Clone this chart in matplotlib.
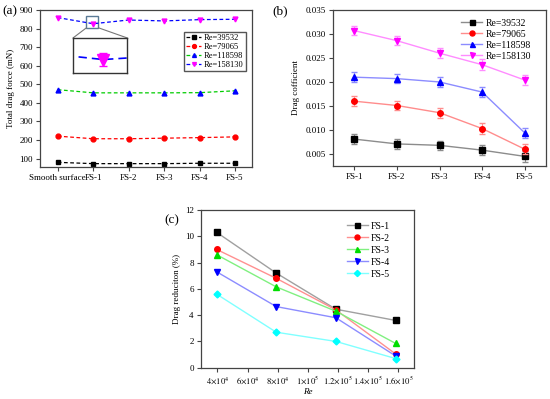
import matplotlib.pyplot as plt
from matplotlib.patches import Rectangle, ConnectionPatch

plt.rcParams['font.family'] = ['Liberation Serif', 'DejaVu Serif']
plt.rcParams['mathtext.fontset'] = 'stix'
plt.rcParams['font.size'] = 6.5
plt.rcParams['axes.edgecolor'] = '#444444'
plt.rcParams['xtick.color'] = '#444444'
plt.rcParams['ytick.color'] = '#444444'
plt.rcParams['xtick.labelcolor'] = 'black'
plt.rcParams['ytick.labelcolor'] = 'black'

# (a) total drag force
surfaces = ['Smooth surface', 'FS-1', 'FS-2', 'FS-3', 'FS-4', 'FS-5']
re_labels = ['Re=39532', 'Re=79065', 'Re=118598', 'Re=158130']
force_39532 = [80, 73, 73, 73, 75, 75]
force_79065 = [221, 207, 207, 210, 213, 217]
force_118598 = [471, 454, 454, 454, 455, 465]
force_158130 = [859, 826, 846, 841, 848, 850]
force_err_158130 = 12

# (b) drag coefficient
fs_names = ['FS-1', 'FS-2', 'FS-3', 'FS-4', 'FS-5']
cd_39532 = [0.0081, 0.0071, 0.0068, 0.0058, 0.0045]
cd_79065 = [0.0160, 0.0151, 0.0136, 0.0103, 0.0060]
cd_118598 = [0.0210, 0.0207, 0.0200, 0.0179, 0.0094]
cd_158130 = [0.0307, 0.0286, 0.0260, 0.0236, 0.0204]
cd_err = [0.0010, 0.0010, 0.0010, 0.0011, 0.0011]

# (c) drag reduction
re_values = [39532, 79065, 118598, 158130]
dr_fs1 = [10.3, 7.2, 4.45, 3.6]
dr_fs2 = [9.0, 6.8, 4.4, 1.05]
dr_fs3 = [8.6, 6.15, 4.3, 1.85]
dr_fs4 = [7.3, 4.65, 3.8, 0.9]
dr_fs5 = [5.6, 2.7, 2.0, 0.7]
re_ticks = [4e4, 6e4, 8e4, 1e5, 1.2e5, 1.4e5, 1.6e5]
re_tick_labels = [r'$4{\times}10^4$', r'$6{\times}10^4$', r'$8{\times}10^4$',
                  r'$1{\times}10^5$', r'$1.2{\times}10^5$', r'$1.4{\times}10^5$',
                  r'$1.6{\times}10^5$']

fig = plt.figure(figsize=(5.5, 3.99), dpi=100)
ax_a = fig.add_axes([0.0727, 0.5815, 0.3855, 0.3935])
ax_b = fig.add_axes([0.6055, 0.584, 0.3873, 0.391])
ax_c = fig.add_axes([0.365, 0.0784, 0.3878, 0.3953])

for ax in (ax_a, ax_b, ax_c):
    ax.tick_params(direction='out', length=3, width=0.8, pad=2)
    for s in ax.spines.values():
        s.set_linewidth(0.9)

# ---- panel (a)
xa = list(range(len(surfaces)))
styles_a = [
    (force_39532, 'black', 'black', 's'),
    (force_79065, 'red', 'red', 'o'),
    (force_118598, '#00cc00', 'blue', '^'),
    (force_158130, 'blue', 'magenta', 'v'),
]
for (vals, lc, mc, mk), lab in zip(styles_a, re_labels):
    ax_a.plot(xa, vals, linestyle=(0, (3, 2)), color=lc, lw=0.9, marker=mk,
              markersize=3.5, markerfacecolor=mc, markeredgecolor=mc, label=lab)
ax_a.set_xlim(-0.5, 5.48)
ax_a.set_ylim(55, 900)
ax_a.set_yticks(range(100, 901, 100))
ax_a.set_xticks(xa)
ax_a.set_xticklabels(surfaces)
ax_a.set_ylabel('Total drag force (mN)', labelpad=3)
ax_a.legend(loc='upper right', bbox_to_anchor=(0.97, 0.86), fontsize=6,
            fancybox=False, edgecolor='#555555', framealpha=1, markerscale=0.8,
            handlelength=1.8, handletextpad=0.3, borderpad=0.25, labelspacing=0.12,
            borderaxespad=0)

# inset zoom of FS-1 point
ins = ax_a.inset_axes([0.156, 0.599, 0.255, 0.223])
ins.errorbar(xa, force_158130, yerr=force_err_158130, linestyle=(0, (5, 3)),
             color='blue', lw=1.2, marker='v', markersize=8, markerfacecolor='magenta',
             markeredgecolor='magenta', ecolor='magenta', capsize=3, elinewidth=0.8)
ins.set_xlim(0.81, 1.15)
ins.set_ylim(800, 868)
ins.set_xticks([])
ins.set_yticks([])
for s in ins.spines.values():
    s.set_edgecolor('#333333')
    s.set_linewidth(1.0)
ax_a.add_patch(Rectangle((0.81, 804), 0.34, 64, fill=False, edgecolor='#5a7a95', lw=1.0))
for xr, xi in ((0.81, 0), (1.15, 1)):
    cp = ConnectionPatch(xyA=(xr, 804), coordsA=ax_a.transData, xyB=(xi, 1),
                         coordsB=ins.transAxes, color='#777777', lw=0.8)
    ax_a.add_artist(cp)

# ---- panel (b)
xb = list(range(len(fs_names)))
styles_b = [
    (cd_39532, '#8c8c8c', 'black', 's'),
    (cd_79065, '#ff8c8c', 'red', 'o'),
    (cd_118598, '#8c8cff', 'blue', '^'),
    (cd_158130, '#ff8cff', 'magenta', 'v'),
]
for (vals, lc, mc, mk), lab in zip(styles_b, re_labels):
    ax_b.errorbar(xb, vals, yerr=cd_err, fmt='none', ecolor=lc, elinewidth=0.8,
                  capsize=2)
    ax_b.plot(xb, vals, color=lc, lw=1.0, marker=mk, markersize=4,
              markerfacecolor=mc, markeredgecolor=mc, label=lab)
ax_b.set_xlim(-0.5, 4.5)
ax_b.set_ylim(0.0025, 0.035)
ax_b.set_yticks([0.005, 0.010, 0.015, 0.020, 0.025, 0.030, 0.035])
ax_b.set_yticklabels(['%.3f' % v for v in [0.005, 0.010, 0.015, 0.020, 0.025, 0.030, 0.035]])
ax_b.set_xticks(xb)
ax_b.set_xticklabels(fs_names)
ax_b.set_ylabel('Drag cofficient', labelpad=4)
ax_b.legend(loc='upper right', bbox_to_anchor=(0.97, 1.0), fontsize=7, frameon=False,
            handlelength=2.2, handletextpad=0.3, labelspacing=0.2, markerscale=0.9)

# ---- panel (c)
styles_c = [
    (dr_fs1, '#a0a0a0', 'black', 's', 'FS-1'),
    (dr_fs2, '#ff9090', 'red', 'o', 'FS-2'),
    (dr_fs3, '#80f080', '#00dd00', '^', 'FS-3'),
    (dr_fs4, '#8c8cff', 'blue', 'v', 'FS-4'),
    (dr_fs5, '#80ffff', 'cyan', 'D', 'FS-5'),
]
for vals, lc, mc, mk, lab in styles_c:
    ax_c.plot(re_values, vals, color=lc, lw=1.0, marker=mk,
              markersize=4 if mk != 'D' else 3.5,
              markerfacecolor=mc, markeredgecolor=mc, label=lab)
ax_c.set_xlim(29000, 170400)
ax_c.set_ylim(0, 12)
ax_c.set_yticks(range(0, 13, 2))
ax_c.set_xticks(re_ticks)
ax_c.set_xticklabels(re_tick_labels, fontsize=6.2)
ax_c.set_xlabel('Re', style='italic', labelpad=1)
ax_c.set_ylabel('Drag reduciton (%)', labelpad=3)
ax_c.legend(loc='upper right', bbox_to_anchor=(0.93, 0.98), fontsize=7, frameon=False,
            handlelength=2.2, handletextpad=0.3, labelspacing=0.3, markerscale=0.9)

fig.text(0.005, 0.965, '(a)', fontsize=9.5)
fig.text(0.495, 0.965, '(b)', fontsize=9.5)
fig.text(0.298, 0.44, '(c)', fontsize=9.5)

fig.savefig('out.png', dpi=100)
